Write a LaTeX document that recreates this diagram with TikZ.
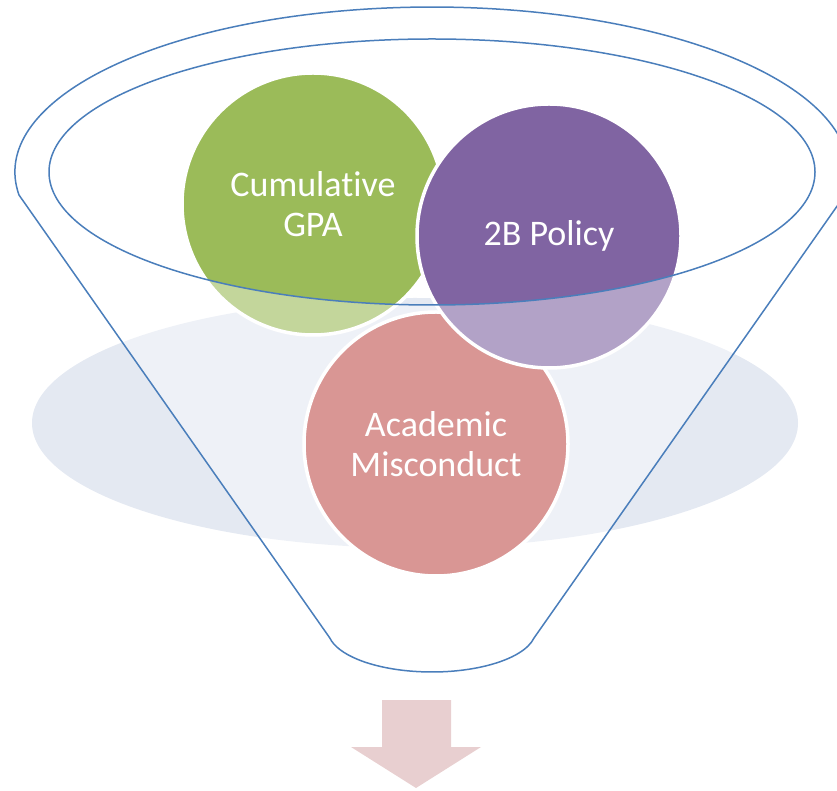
\documentclass[tikz,border=0pt]{standalone}
\usepackage{fontspec}
\setmainfont[Ligatures={NoCommon}]{Carlito}
\definecolor{fgreen}{HTML}{9BBB59}
\definecolor{fpurple}{HTML}{8064A2}
\definecolor{fred}{HTML}{C0504D}
\definecolor{fblue}{HTML}{4A7EBB}
\definecolor{shadowc}{HTML}{E4E9F2}
\definecolor{arrowc}{HTML}{E8CFD0}
\begin{document}
\begin{tikzpicture}[x=1pt,y=1pt,
  ball/.style={circle, minimum size=#1, inner sep=0pt, draw=white, line width=3.5pt,
    text=white, align=center, font=\fontsize{36}{40}\selectfont},
  funnel/.style={fill=white, fill opacity=0.4, draw=fblue, line width=1.5pt, even odd rule}]
\useasboundingbox (0,0) rectangle (837,790);
\clip (0,0) rectangle (837,790);
% shadow
\fill[shadowc] (415,367) ellipse[x radius=383pt, y radius=125pt];
% circles
\node[ball=264pt, fill=fred] (mis) at (436,346) {Academic\\Misconduct};
\node[ball=262pt, fill=fgreen] (gpa) at (313,586) {Cumulative\\GPA};
\node[ball=264pt, fill=fpurple] (pol) at (549,554) {2B Policy};
% funnel
\path[funnel] (19,595) arc[start angle=188, end angle=-8, x radius=417pt, y radius=165pt]
  -- (534,152) arc[start angle=-11, end angle=-169, x radius=104pt, y radius=42pt] -- cycle
  (432,618) ellipse[x radius=383pt, y radius=133pt];
% arrow
\fill[arrowc] (382,90) -- (451,90) -- (451,43) -- (481,43) -- (416,2) -- (351,43) -- (382,43) -- cycle;
\end{tikzpicture}
\end{document}
